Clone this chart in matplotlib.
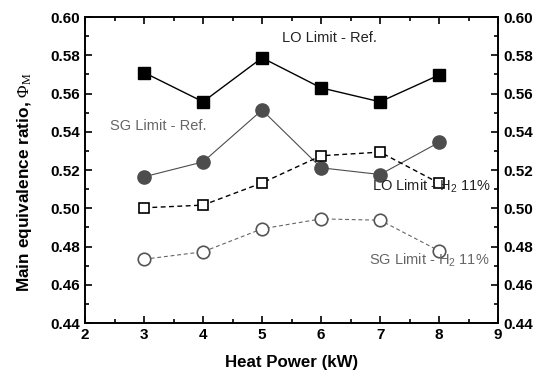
import matplotlib
matplotlib.use("Agg")
import matplotlib.pyplot as plt
from matplotlib.ticker import MultipleLocator

plt.rcParams['font.family'] = ['Liberation Sans', 'DejaVu Sans']
plt.rcParams['mathtext.fontset'] = 'custom'
plt.rcParams['mathtext.rm'] = 'Liberation Serif'
plt.rcParams['mathtext.it'] = 'Liberation Serif:italic'
plt.rcParams['mathtext.sf'] = 'Liberation Sans'

heat_power = [3, 4, 5, 6, 7, 8]
lo_ref = [0.571, 0.5557, 0.5787, 0.563, 0.5557, 0.5697]
sg_ref = [0.5165, 0.5243, 0.5514, 0.5212, 0.5177, 0.5345]
lo_h2 = [0.5003, 0.5017, 0.5133, 0.5275, 0.5294, 0.5132]
sg_h2 = [0.4734, 0.4773, 0.4893, 0.4945, 0.4938, 0.4778]

fig = plt.figure(figsize=(5.35, 3.71), dpi=100)
ax = fig.add_axes([0.159, 0.129, 0.772, 0.825])

gray = "#4d4d4d"
ax.plot(heat_power, lo_ref, "-", color="black", lw=1, marker="s", ms=8.5,
        mfc="black", mec="black")
ax.plot(heat_power, sg_ref, "-", color=gray, lw=0.8, marker="o", ms=9.5,
        mfc=gray, mec=gray)
ax.plot(heat_power, lo_h2, "--", color="black", lw=1, marker="s", ms=7.5,
        mfc="white", mec="black", mew=1.2, dashes=(3.5, 2.5))
ax.plot(heat_power, sg_h2, "--", color="#666666", lw=0.8, marker="o", ms=9,
        mfc="white", mec="#555555", mew=1.2, dashes=(3.5, 2.5))

ax.set_xlim(2, 9)
ax.set_ylim(0.44, 0.60)
ax.xaxis.set_major_locator(MultipleLocator(1))
ax.xaxis.set_minor_locator(MultipleLocator(0.5))
ax.yaxis.set_major_locator(MultipleLocator(0.02))
ax.yaxis.set_minor_locator(MultipleLocator(0.01))
ax.yaxis.set_major_formatter(plt.FormatStrFormatter("%.2f"))
ax.tick_params(which="both", direction="in", top=True, right=False, width=1.2)
ax.tick_params(which="major", length=5, labelsize=11)
ax.tick_params(which="minor", length=3)
for lab in ax.get_xticklabels() + ax.get_yticklabels():
    lab.set_fontweight("bold")
for s in ax.spines.values():
    s.set_linewidth(1.2)

ax2 = ax.twinx()
ax2.set_ylim(0.44, 0.60)
ax2.yaxis.set_major_locator(MultipleLocator(0.02))
ax2.yaxis.set_minor_locator(MultipleLocator(0.01))
ax2.yaxis.set_major_formatter(plt.FormatStrFormatter("%.2f"))
ax2.tick_params(which="both", direction="in", width=1.2)
ax2.tick_params(which="major", length=5, labelsize=11)
ax2.tick_params(which="minor", length=3)
for lab in ax2.get_yticklabels():
    lab.set_fontweight("bold")
for s in ax2.spines.values():
    s.set_linewidth(1.2)

ax.set_xlabel("Heat Power (kW)", fontsize=12.2, fontweight="bold")
ax.xaxis.set_label_coords(0.499, -0.105)
ax.set_ylabel(r"Main equivalence ratio, $\Phi_{\rm M}$", fontsize=12.4,
              fontweight="bold")
ax.yaxis.set_label_coords(-0.124, 0.46)

ax.text(5.34, 0.5892, "LO Limit - Ref.", fontsize=10.5, color="#222222", va="center")
ax.text(2.42, 0.5432, "SG Limit - Ref.", fontsize=10.5, color="#666666", va="center")
ax.text(6.86, 0.5116, r"LO Limit - H$_\mathsf{2}$ 11%", fontsize=10.5, color="#222222", va="center")
ax.text(6.81, 0.4729, r"SG Limit - H$_\mathsf{2}$ 11%", fontsize=10.5, color="#666666", va="center")

fig.savefig("out.png", dpi=100)
